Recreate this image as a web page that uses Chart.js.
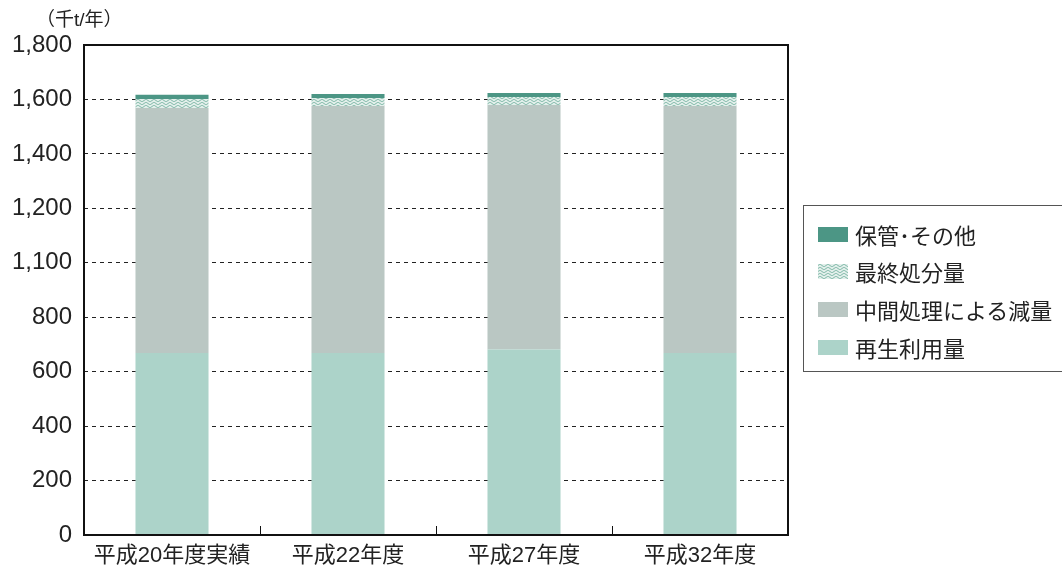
<!DOCTYPE html>
<html>
<head>
<meta charset="utf-8">
<script src="https://cdn.jsdelivr.net/npm/chart.js@4"></script>
<style>
  body { margin: 0; background: #fff; overflow: hidden; }
  #wrap { position: relative; width: 1062px; height: 569px; }
  #leyenda {
    position: absolute; left: 803px; top: 205px; width: 270px; height: 167px;
    border: 1px solid #555; box-sizing: border-box; background: #fff;
    font-family: "Liberation Sans", "Noto Sans CJK JP", sans-serif; font-size: 22px; color: #222;
  }
  .item { position: absolute; left: 14px; height: 26px; display: flex; align-items: center; }
  .item canvas { margin-right: 7px; }
</style>
</head>
<body>
<div id="wrap">
  <canvas id="grafico" width="1062" height="569"></canvas>
  <div id="leyenda"></div>
</div>
<script>
// datos (千t/年)
const categorias = ["平成20年度実績", "平成22年度", "平成27年度", "平成32年度"];
const reciclado = [669, 669, 681, 669];      // 再生利用量
const reduccion = [900, 907, 899, 907];      // 中間処理による減量
const disposicion = [33, 29, 29, 33];        // 最終処分量
const almacenaje = [15, 15, 15, 15];         // 保管･その他
const nombres = ["再生利用量", "中間処理による減量", "最終処分量", "保管･その他"];
const etiquetasY = ["0", "200", "400", "600", "800", "1,100", "1,200", "1,400", "1,600", "1,800"];

const fuente = "'Liberation Sans', 'Noto Sans CJK JP', sans-serif";

// patrón de ondas para 最終処分量
function patronOndas(ctx) {
    const c = document.createElement("canvas");
    c.width = 8; c.height = 3;
    const g = c.getContext("2d");
    g.fillStyle = "#e2efeb";
    g.fillRect(0, 0, 8, 3);
    g.strokeStyle = "#7fb8a8";
    g.lineWidth = 1;
    g.beginPath();
    g.moveTo(0, 1.5);
    g.bezierCurveTo(2, 0, 2, 0, 4, 1.5);
    g.bezierCurveTo(6, 3, 6, 3, 8, 1.5);
    g.stroke();
    return ctx.createPattern(c, "repeat");
}

const ctx = document.getElementById("grafico").getContext("2d");

const marco = {
    id: "marco",
    afterDraw(chart) {
        const { ctx, chartArea: a, scales } = chart;
        ctx.save();
        ctx.strokeStyle = "#111";
        ctx.lineWidth = 2;
        ctx.strokeRect(a.left, a.top, a.right - a.left, a.bottom - a.top);
        // marcas interiores entre categorías
        ctx.lineWidth = 1;
        for (let i = 1; i < categorias.length; i++) {
            const x = Math.round((scales.x.getPixelForTick(i - 1) + scales.x.getPixelForTick(i)) / 2) + 0.5;
            ctx.beginPath();
            ctx.moveTo(x, a.bottom);
            ctx.lineTo(x, a.bottom - 9);
            ctx.stroke();
        }
        // unidad
        ctx.fillStyle = "#222";
        ctx.font = "19px " + fuente;
        ctx.textAlign = "left";
        ctx.textBaseline = "middle";
        ctx.fillText("（千t/年）", 36, 21);
        ctx.restore();
    }
};

const chart = new Chart(ctx, {
    type: "bar",
    data: {
        labels: categorias,
        datasets: [
            { label: nombres[0], data: reciclado, backgroundColor: "#acd3c9" },
            { label: nombres[1], data: reduccion, backgroundColor: "#bac7c3" },
            { label: nombres[2], data: disposicion, backgroundColor: patronOndas(ctx) },
            { label: nombres[3], data: almacenaje, backgroundColor: "#4c9685" }
        ]
    },
    options: {
        responsive: false,
        animation: false,
        layout: { padding: { top: 45, right: 274, left: 0, bottom: 0 } },
        datasets: { bar: { categoryPercentage: 1, barPercentage: 0.415 } },
        plugins: { legend: { display: false }, tooltip: { enabled: false } },
        scales: {
            x: {
                stacked: true,
                grid: { display: false },
                border: { display: false },
                ticks: { color: "#222", font: { family: fuente, size: 22 }, padding: 0 },
                afterFit: s => { s.height = 34; }
            },
            y: {
                stacked: true,
                min: 0, max: 1800,
                grid: {
                    drawTicks: false,
                    color: c => (c.tick.value === 0 || c.tick.value === 1800) ? "rgba(0,0,0,0)" : "#222",
                    lineWidth: 1
                },
                border: { display: false, dash: [4, 4] },
                ticks: {
                    stepSize: 200,
                    padding: 12,
                    color: "#222",
                    font: { family: fuente, size: 24 },
                    callback: (v, i) => etiquetasY[i]
                },
                afterFit: s => { s.width = 84; }
            }
        }
    },
    plugins: [marco]
});

// leyenda en HTML (orden inverso, como el original)
const leyenda = document.getElementById("leyenda");
const filas = [28, 65, 103, 141];
chart.data.datasets.slice().reverse().forEach((ds, i) => {
    const div = document.createElement("div");
    div.className = "item";
    div.style.top = (filas[i] - 13) + "px";
    const sw = document.createElement("canvas");
    sw.width = 30; sw.height = 15;
    const sctx = sw.getContext("2d");
    sctx.fillStyle = ds.label === nombres[2] ? patronOndas(sctx) : ds.backgroundColor;
    sctx.fillRect(0, 0, 30, 15);
    div.appendChild(sw);
    const t = document.createElement("span");
    t.textContent = ds.label;
    div.appendChild(t);
    leyenda.appendChild(div);
});
</script>
</body>
</html>
